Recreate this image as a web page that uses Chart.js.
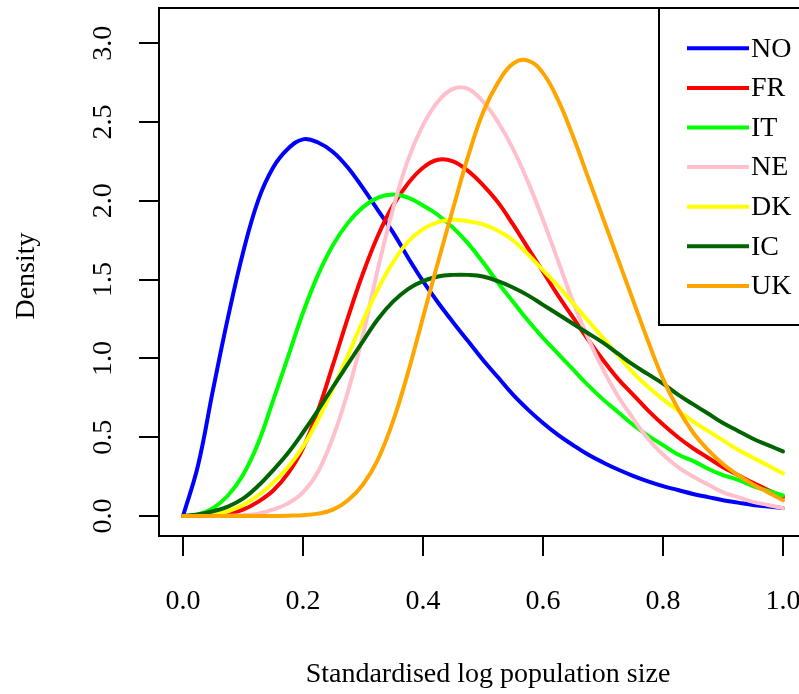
<!DOCTYPE html>
<html>
<head>
<meta charset="utf-8">
<style>
  html, body { margin: 0; padding: 0; background: #ffffff; overflow: hidden; }
  #wrap { position: relative; width: 840px; height: 694px; }
</style>
<script src="https://cdn.jsdelivr.net/npm/chart.js@4/dist/chart.umd.min.js"></script>
</head>
<body>
<div id="wrap"><canvas id="chart" width="840" height="694"></canvas></div>
<script>
// Sample positions along the standardised log population size axis
const xGrid = [
  0.000, 0.025, 0.050, 0.075, 0.100, 0.125, 0.150, 0.175, 0.200, 0.225,
  0.250, 0.275, 0.300, 0.325, 0.350, 0.375, 0.400, 0.425, 0.450, 0.475,
  0.500, 0.525, 0.550, 0.575, 0.600, 0.625, 0.650, 0.675, 0.700, 0.725,
  0.750, 0.775, 0.800, 0.825, 0.850, 0.875, 0.900, 0.925, 0.950, 0.975, 1.000
];

// Density values per country at each sample position
const densityNO = [
  0.00, 0.32, 0.80, 1.26, 1.67, 2.00, 2.21, 2.33, 2.39, 2.37,
  2.31, 2.21, 2.08, 1.94, 1.80, 1.64, 1.49, 1.355, 1.23, 1.11,
  0.99, 0.88, 0.77, 0.675, 0.59, 0.515, 0.45, 0.39, 0.34, 0.295,
  0.255, 0.22, 0.19, 0.165, 0.14, 0.12, 0.10, 0.085, 0.07, 0.06, 0.05
];
const densityFR = [
  0.00, 0.00, 0.003, 0.012, 0.04, 0.09, 0.16, 0.27, 0.43, 0.67,
  0.96, 1.26, 1.54, 1.78, 1.97, 2.11, 2.21, 2.26, 2.25, 2.19,
  2.10, 1.99, 1.85, 1.70, 1.55, 1.40, 1.26, 1.12, 0.99, 0.87,
  0.77, 0.67, 0.58, 0.50, 0.43, 0.37, 0.31, 0.26, 0.21, 0.165, 0.12
];
const densityIT = [
  0.00, 0.01, 0.05, 0.13, 0.26, 0.46, 0.73, 1.01, 1.29, 1.53,
  1.72, 1.86, 1.96, 2.02, 2.04, 2.02, 1.97, 1.91, 1.83, 1.73,
  1.61, 1.48, 1.36, 1.24, 1.13, 1.03, 0.93, 0.83, 0.74, 0.66,
  0.58, 0.51, 0.45, 0.39, 0.35, 0.30, 0.26, 0.23, 0.19, 0.16, 0.13
];
const densityNE = [
  0.00, 0.00, 0.00, 0.001, 0.005, 0.015, 0.04, 0.08, 0.15, 0.28,
  0.50, 0.79, 1.15, 1.57, 1.95, 2.26, 2.48, 2.63, 2.71, 2.71,
  2.63, 2.50, 2.33, 2.12, 1.88, 1.62, 1.36, 1.13, 0.93, 0.76,
  0.62, 0.49, 0.39, 0.31, 0.25, 0.20, 0.15, 0.12, 0.09, 0.07, 0.05
];
const densityDK = [
  0.00, 0.002, 0.01, 0.03, 0.07, 0.13, 0.21, 0.31, 0.44, 0.61,
  0.81, 1.02, 1.24, 1.44, 1.61, 1.74, 1.82, 1.865, 1.88, 1.87,
  1.85, 1.81, 1.75, 1.66, 1.56, 1.46, 1.35, 1.24, 1.13, 1.02,
  0.91, 0.82, 0.74, 0.67, 0.60, 0.54, 0.48, 0.42, 0.37, 0.32, 0.27
];
const densityIC = [
  0.00, 0.01, 0.03, 0.06, 0.11, 0.19, 0.29, 0.40, 0.53, 0.67,
  0.82, 0.965, 1.11, 1.25, 1.36, 1.44, 1.49, 1.52, 1.53, 1.53,
  1.52, 1.49, 1.45, 1.40, 1.34, 1.28, 1.22, 1.16, 1.10, 1.03,
  0.96, 0.90, 0.84, 0.77, 0.71, 0.65, 0.59, 0.54, 0.49, 0.45, 0.41
];
const densityUK = [
  0.00, 0.00, 0.00, 0.00, 0.00, 0.00, 0.00, 0.002, 0.005, 0.015,
  0.04, 0.10, 0.20, 0.36, 0.60, 0.91, 1.26, 1.61, 1.95, 2.28,
  2.56, 2.75, 2.87, 2.89, 2.81, 2.64, 2.41, 2.15, 1.89, 1.63,
  1.37, 1.11, 0.87, 0.68, 0.53, 0.42, 0.33, 0.26, 0.20, 0.15, 0.10
];

const countries = ['NO', 'FR', 'IT', 'NE', 'DK', 'IC', 'UK'];
const countryValues = [densityNO, densityFR, densityIT, densityNE, densityDK, densityIC, densityUK];
const countryColors = ['#0000FF', '#FF0000', '#00FF00', '#FFC0CB', '#FFFF00', '#006400', '#FFA500'];

// Axis tick positions and labels
const xTicks = [0.0, 0.2, 0.4, 0.6, 0.8, 1.0];
const xTickLabels = ['0.0', '0.2', '0.4', '0.6', '0.8', '1.0'];
const yTicks = [0.0, 0.5, 1.0, 1.5, 2.0, 2.5, 3.0];
const yTickLabels = ['0.0', '0.5', '1.0', '1.5', '2.0', '2.5', '3.0'];

const xTitle = 'Standardised log population size';
const yTitle = 'Density';

const SERIF = '"Liberation Serif", "Times New Roman", Times, serif';
const FONT_SIZE = 28;

// Box, tick labels, axis titles and legend, drawn on top of the curves
const decorations = {
  id: 'decorations',
  afterDraw(chart) {
    const ctx = chart.ctx;
    const area = chart.chartArea;
    const xs = chart.scales.x;
    const ys = chart.scales.y;
    ctx.save();

    // plot frame
    ctx.strokeStyle = '#000';
    ctx.lineWidth = 2;
    ctx.strokeRect(area.left, area.top, area.right - area.left, area.bottom - area.top);

    ctx.fillStyle = '#000';
    ctx.font = FONT_SIZE + 'px ' + SERIF;

    // x tick labels
    ctx.textAlign = 'center';
    ctx.textBaseline = 'alphabetic';
    xTicks.forEach((v, i) => {
      ctx.fillText(xTickLabels[i], xs.getPixelForValue(v), 609);
    });

    // y tick labels, parallel to the axis
    yTicks.forEach((v, i) => {
      ctx.save();
      ctx.translate(111, ys.getPixelForValue(v));
      ctx.rotate(-Math.PI / 2);
      ctx.fillText(yTickLabels[i], 0, 0);
      ctx.restore();
    });

    // axis titles
    ctx.fillText(xTitle, (xs.getPixelForValue(0) + xs.getPixelForValue(1)) / 2 + 5, 682);
    ctx.save();
    ctx.translate(34, (area.top + area.bottom) / 2 + 4);
    ctx.rotate(-Math.PI / 2);
    ctx.fillText(yTitle, 0, 0);
    ctx.restore();

    // legend box in the top-right corner of the plot
    const boxLeft = 659, boxBottom = 325;
    ctx.fillStyle = '#fff';
    ctx.fillRect(boxLeft, area.top, area.right - boxLeft, boxBottom - area.top);
    ctx.strokeStyle = '#000';
    ctx.lineWidth = 2;
    ctx.strokeRect(boxLeft, area.top, area.right - boxLeft, boxBottom - area.top);

    ctx.textAlign = 'left';
    ctx.textBaseline = 'middle';
    chart.data.datasets.forEach((ds, i) => {
      const rowY = 48.3 + i * 39.6;
      ctx.strokeStyle = ds.borderColor;
      ctx.lineWidth = 4;
      ctx.beginPath();
      ctx.moveTo(687, rowY);
      ctx.lineTo(749, rowY);
      ctx.stroke();
      ctx.fillStyle = '#000';
      ctx.fillText(ds.label, 751, rowY + 1);
    });

    ctx.restore();
  }
};

const datasets = countries.map((name, i) => ({
  label: name,
  data: xGrid.map((x, j) => ({ x: x, y: countryValues[i][j] })),
  borderColor: countryColors[i],
  backgroundColor: countryColors[i],
  borderWidth: 4,
  pointRadius: 0,
  fill: false,
  tension: 0.4,
  borderCapStyle: 'round',
  borderJoinStyle: 'round',
  order: countries.length - i
}));

const tickGrid = { drawOnChartArea: false, drawTicks: true, tickLength: 20, color: '#000', lineWidth: 2 };

new Chart(document.getElementById('chart'), {
  type: 'line',
  data: { datasets: datasets },
  options: {
    responsive: false,
    animation: false,
    events: [],
    layout: { padding: { left: 0, top: 8, right: 33, bottom: 0 } },
    plugins: { legend: { display: false }, tooltip: { enabled: false } },
    scales: {
      x: {
        type: 'linear',
        min: -0.04,
        max: 1.04,
        afterBuildTicks: (s) => { s.ticks = xTicks.map(v => ({ value: v })); },
        afterFit: (s) => { s.height = 158; },
        grid: tickGrid,
        border: { display: false },
        ticks: { display: false }
      },
      y: {
        type: 'linear',
        min: -0.1269,
        max: 3.2234,
        afterBuildTicks: (s) => { s.ticks = yTicks.map(v => ({ value: v })); },
        afterFit: (s) => { s.width = 159; },
        grid: tickGrid,
        border: { display: false },
        ticks: { display: false }
      }
    }
  },
  plugins: [decorations]
});
</script>
</body>
</html>
